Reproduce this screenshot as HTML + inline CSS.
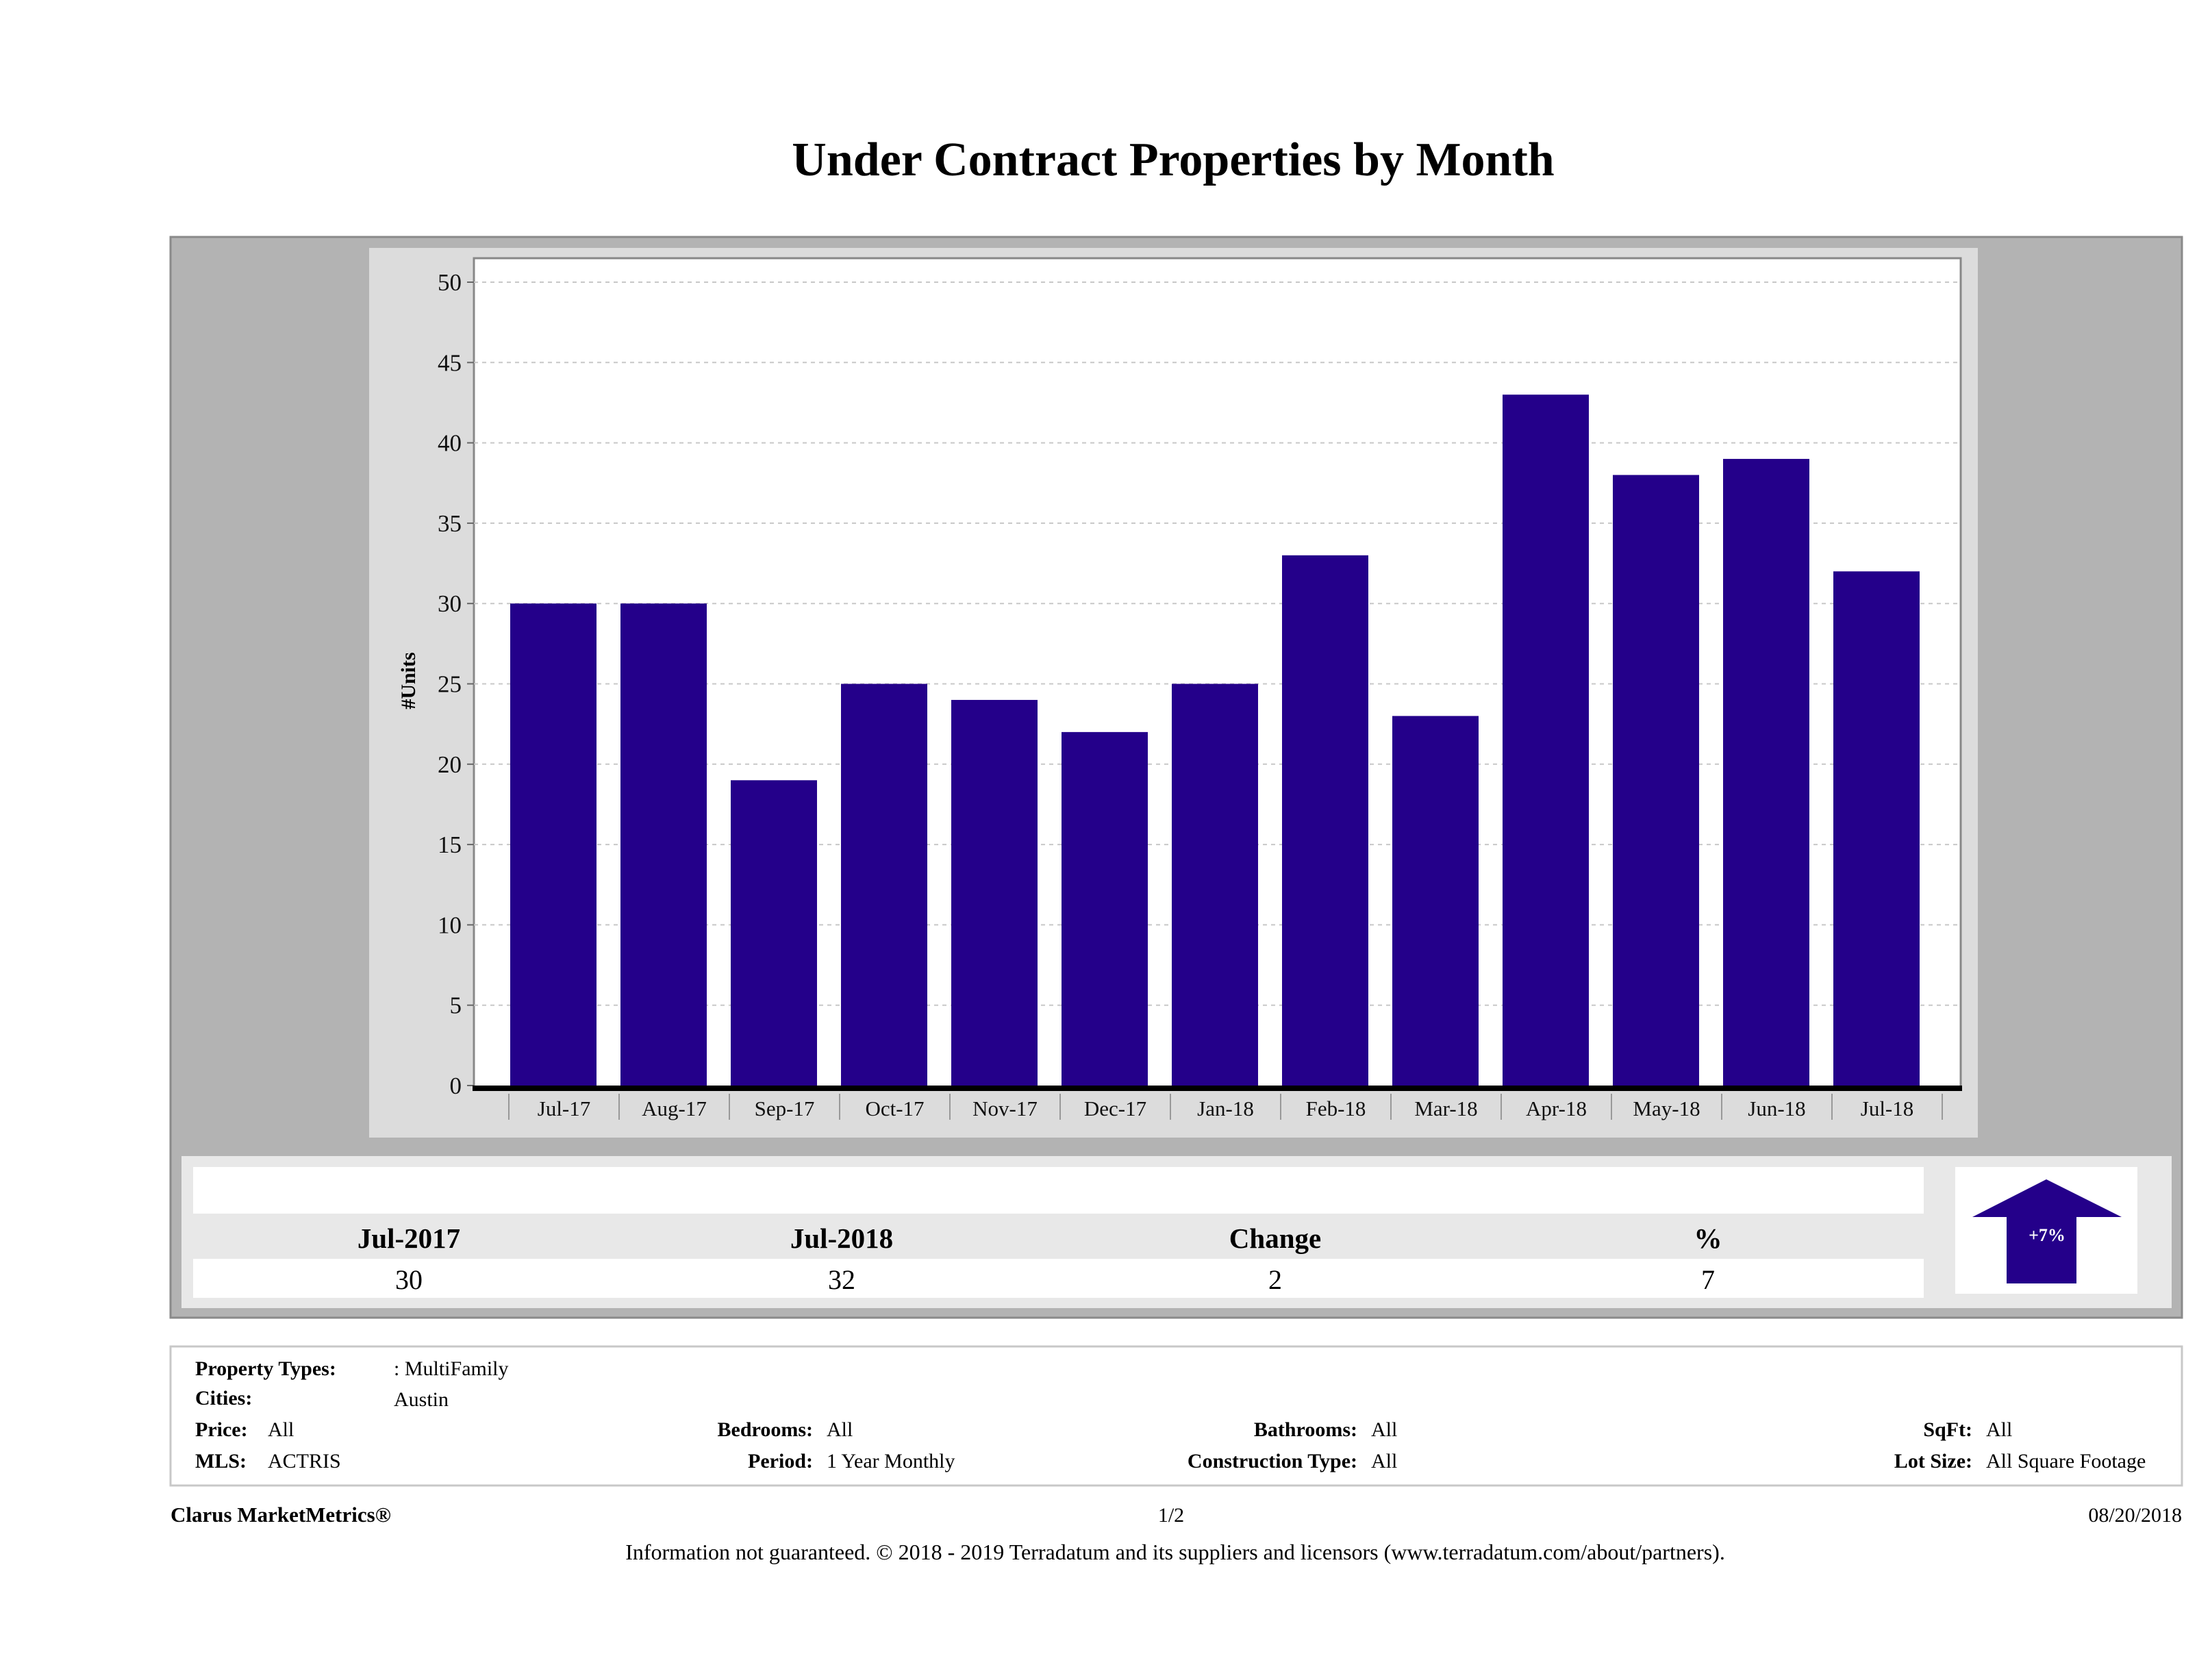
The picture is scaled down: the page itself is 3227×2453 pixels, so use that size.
<!DOCTYPE html>
<html><head><meta charset="utf-8"><title>Under Contract Properties by Month</title>
<style>
html,body{margin:0;padding:0;background:#fff;}
body{width:3227px;height:2448px;overflow:hidden;font-family:"Liberation Serif",serif;}
svg text{font-family:"Liberation Serif",serif;}
</style></head>
<body>
<svg id="page" width="3227" height="2448" viewBox="0 0 3227 2448" xmlns="http://www.w3.org/2000/svg">
<text x="1713" y="256" font-size="70" font-weight="bold" text-anchor="middle" fill="#000">Under Contract Properties by Month</text>
<rect x="249" y="346" width="2937" height="1578" fill="#b3b3b3" stroke="#8a8a8a" stroke-width="3"/>
<rect x="539" y="362" width="2349" height="1299" fill="#dcdcdc"/>
<rect x="692" y="377" width="2171" height="1213" fill="#fff" stroke="#888" stroke-width="3"/>
<g id="grid"></g>
<g id="yticks"></g>
<g id="bars"></g>
<g id="xticks"></g>
<text x="0" y="0" transform="translate(606,994) rotate(-90)" font-size="30" font-weight="bold" text-anchor="middle">#Units</text>

<rect x="265" y="1688" width="2906" height="222" fill="#e8e8e8"/>
<rect x="282" y="1704" width="2527" height="68" fill="#fff"/>
<rect x="282" y="1838" width="2527" height="57" fill="#fff"/>
<text x="597" y="1822" font-size="41" font-weight="bold" text-anchor="middle">Jul-2017</text>
<text x="1229" y="1822" font-size="41" font-weight="bold" text-anchor="middle">Jul-2018</text>
<text x="1862" y="1822" font-size="41" font-weight="bold" text-anchor="middle">Change</text>
<text x="2494" y="1822" font-size="41" font-weight="bold" text-anchor="middle">%</text>
<text x="597" y="1882" font-size="40" text-anchor="middle">30</text>
<text x="1229" y="1882" font-size="40" text-anchor="middle">32</text>
<text x="1862" y="1882" font-size="40" text-anchor="middle">2</text>
<text x="2494" y="1882" font-size="40" text-anchor="middle">7</text>
<rect x="2855" y="1704" width="266" height="185" fill="#fff"/>
<polygon points="2988,1722 3098,1777 3032,1777 3032,1874 2930,1874 2930,1777 2880,1777" fill="#24008a"/>
<text x="2989" y="1812" font-size="26" font-weight="bold" fill="#fff" text-anchor="middle">+7%</text>

<rect x="249" y="1966" width="2937" height="203" fill="#fff" stroke="#c8c8c8" stroke-width="3"/>
<g font-size="30">
<text x="285" y="2008" font-weight="bold">Property Types:</text>
<text x="575" y="2008">: MultiFamily</text>
<text x="285" y="2051" font-weight="bold">Cities:</text>
<text x="575" y="2053">Austin</text>
<text x="285" y="2097" font-weight="bold">Price:</text>
<text x="391" y="2097">All</text>
<text x="285" y="2143" font-weight="bold">MLS:</text>
<text x="391" y="2143">ACTRIS</text>
<text x="1187" y="2097" font-weight="bold" text-anchor="end">Bedrooms:</text>
<text x="1207" y="2097">All</text>
<text x="1187" y="2143" font-weight="bold" text-anchor="end">Period:</text>
<text x="1207" y="2143">1 Year Monthly</text>
<text x="1982" y="2097" font-weight="bold" text-anchor="end">Bathrooms:</text>
<text x="2002" y="2097">All</text>
<text x="1982" y="2143" font-weight="bold" text-anchor="end">Construction Type:</text>
<text x="2002" y="2143">All</text>
<text x="2880" y="2097" font-weight="bold" text-anchor="end">SqFt:</text>
<text x="2900" y="2097">All</text>
<text x="2880" y="2143" font-weight="bold" text-anchor="end">Lot Size:</text>
<text x="2900" y="2143">All Square Footage</text>
</g>
<text x="249" y="2222" font-size="31" font-weight="bold">Clarus MarketMetrics®</text>
<text x="1710" y="2222" font-size="30" text-anchor="middle">1/2</text>
<text x="3186" y="2222" font-size="30" text-anchor="end">08/20/2018</text>
<text x="1716" y="2277" font-size="32" text-anchor="middle">Information not guaranteed. © 2018 - 2019 Terradatum and its suppliers and licensors (www.terradatum.com/about/partners).</text>
</svg>
<script>
const categories = ["Jul-17","Aug-17","Sep-17","Oct-17","Nov-17","Dec-17","Jan-18","Feb-18","Mar-18","Apr-18","May-18","Jun-18","Jul-18"];
const units = [30,30,19,25,24,22,25,33,23,43,38,39,32];
const yTicks = [0,5,10,15,20,25,30,35,40,45,50];

const NS = "http://www.w3.org/2000/svg";
const plotLeft = 692, plotRight = 2863, yZero = 1585, yTop = 412, yMax = 50;
const bandStart = 743, bandW = 161, barOff = 2, barW = 126;
function yScale(v){ return yZero - (v / yMax) * (yZero - yTop); }
function xBand(i){ return bandStart + i * bandW; }
function mk(tag, attrs, parent){ const e = document.createElementNS(NS, tag); for (const k in attrs) e.setAttribute(k, attrs[k]); parent.appendChild(e); return e; }

const grid = document.getElementById('grid');
const yt = document.getElementById('yticks');
yTicks.forEach(t => {
  const y = yScale(t);
  if (t > 0) {
    const g = mk('line', {x1: plotLeft, x2: plotRight, y1: y, y2: y, stroke: '#c8c8c8', 'stroke-width': 2, 'stroke-dasharray': '6,6'}, grid);
    
    
  }
  const tk = mk('line', {x1: plotLeft - 10, x2: plotLeft, y1: y, y2: y, stroke: '#666', 'stroke-width': 2}, yt);
  
  
  const tx = mk('text', {x: plotLeft - 18, y: y + 12, 'font-size': 35, 'text-anchor': 'end', fill: '#111'}, yt);
  tx.textContent = t;
  
  
});

const bars = document.getElementById('bars');
units.forEach((v, i) => {
  const y = yScale(v);
  const r = mk('rect', {x: xBand(i) + barOff, y: y, width: barW, height: yZero - y, fill: '#24008a'}, bars);
  
  
});

const xt = document.getElementById('xticks');
const axis = mk('rect', {x: plotLeft - 2, y: yZero, width: plotRight - plotLeft + 4, height: 8, fill: '#000'}, xt);


for (let i = 0; i <= categories.length; i++) {
  const x = xBand(i);
  const s = mk('line', {x1: x, x2: x, y1: yZero + 12, y2: yZero + 50, stroke: '#999', 'stroke-width': 2}, xt);
  
  
}
categories.forEach((c, i) => {
  const tx = mk('text', {x: xBand(i) + bandW / 2, y: yZero + 44, 'font-size': 31, 'text-anchor': 'middle', fill: '#111'}, xt);
  tx.textContent = c;
  
  
});
</script>
</body></html>
